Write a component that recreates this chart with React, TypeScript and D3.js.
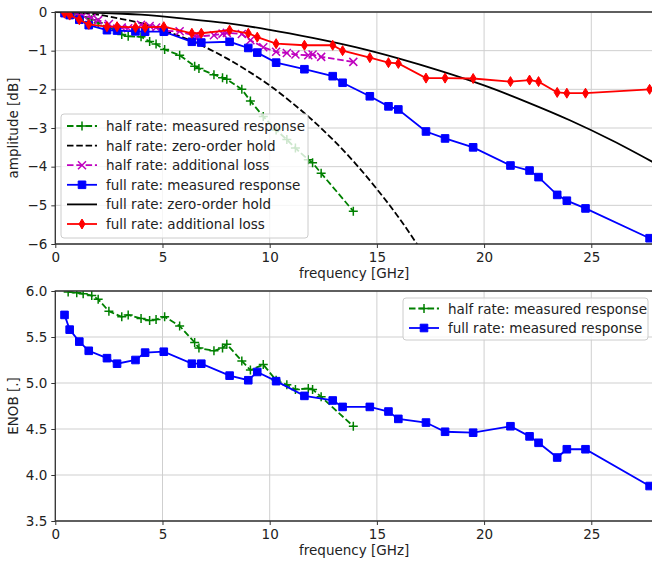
import { useEffect, useRef } from 'react';
import * as d3 from 'd3';

// half rate measurements (GHz)
const hfFreq = [0.6, 1.0, 1.3, 1.7, 2.0, 2.5, 3.1, 3.4, 4.0, 4.4, 4.7, 5.1, 5.8, 6.5, 6.7, 7.4, 7.8, 8.0, 8.7, 9.1, 9.7, 10.3, 10.8, 11.2, 11.8, 12.0, 12.4, 13.9];
const hfMeasured = [-0.03, -0.08, -0.12, -0.2, -0.28, -0.42, -0.58, -0.63, -0.64, -0.76, -0.83, -0.97, -1.12, -1.4, -1.46, -1.62, -1.7, -1.74, -2.0, -2.3, -2.7, -3.05, -3.3, -3.52, -3.82, -3.9, -4.17, -5.15];
const hfLoss = [-0.02, -0.06, -0.09, -0.15, -0.21, -0.31, -0.4, -0.42, -0.33, -0.36, -0.4, -0.49, -0.5, -0.62, -0.63, -0.6, -0.56, -0.54, -0.57, -0.73, -0.91, -1.03, -1.06, -1.1, -1.12, -1.1, -1.16, -1.29];
const hfEnob = [5.99, 5.98, 5.97, 5.95, 5.91, 5.78, 5.72, 5.74, 5.7, 5.68, 5.69, 5.72, 5.62, 5.44, 5.38, 5.35, 5.38, 5.42, 5.24, 5.14, 5.2, 5.03, 4.98, 4.93, 4.94, 4.93, 4.85, 4.53];

// full rate measurements (GHz)
const ffFreq = [0.43, 0.67, 1.12, 1.56, 2.41, 2.88, 3.74, 4.19, 5.06, 6.37, 6.81, 8.13, 9.0, 9.42, 10.3, 11.62, 12.94, 13.4, 14.67, 15.54, 16.0, 17.29, 18.18, 19.49, 21.23, 22.12, 22.54, 23.41, 23.86, 24.73, 27.72];
const ffMeasured = [-0.03, -0.08, -0.2, -0.34, -0.47, -0.48, -0.5, -0.51, -0.51, -0.77, -0.79, -0.77, -0.93, -1.05, -1.31, -1.48, -1.66, -1.83, -2.18, -2.44, -2.52, -3.09, -3.27, -3.5, -3.97, -4.1, -4.27, -4.73, -4.88, -5.08, -5.85];
const ffLoss = [-0.03, -0.08, -0.2, -0.32, -0.38, -0.38, -0.4, -0.4, -0.38, -0.55, -0.55, -0.47, -0.55, -0.65, -0.82, -0.86, -0.86, -1.0, -1.18, -1.31, -1.33, -1.71, -1.71, -1.72, -1.8, -1.76, -1.8, -2.08, -2.1, -2.1, -2.0];
const ffEnob = [5.74, 5.58, 5.45, 5.35, 5.27, 5.21, 5.25, 5.33, 5.34, 5.21, 5.21, 5.08, 5.03, 5.12, 5.02, 4.86, 4.81, 4.74, 4.74, 4.69, 4.61, 4.57, 4.47, 4.46, 4.53, 4.42, 4.35, 4.19, 4.28, 4.28, 3.88];

// zero-order hold curves
const zohHalfFreq = [0, 1, 2, 3, 4, 5, 6, 7, 8, 9, 10, 11, 12, 13, 14, 15, 16, 17];
const zohHalfAmp = [0, -0.02, -0.07, -0.17, -0.29, -0.46, -0.67, -0.91, -1.2, -1.53, -1.9, -2.33, -2.8, -3.33, -3.92, -4.58, -5.3, -6.11];
const zohFullFreq = [0, 2, 4, 6, 8, 10, 12, 14, 16, 18, 20, 22, 24, 26, 28];
const zohFullAmp = [0, -0.02, -0.07, -0.17, -0.29, -0.46, -0.67, -0.91, -1.2, -1.53, -1.9, -2.33, -2.8, -3.33, -3.92];

const xTicks = [0, 5, 10, 15, 20, 25];
const ampTicks = [-6, -5, -4, -3, -2, -1, 0];
const enobTicks = [3.5, 4.0, 4.5, 5.0, 5.5, 6.0];

const FONT = 'DejaVu Sans, sans-serif';
const FS = 13.5;
const LW = 1.8;
const DASH = '6.5,2.8';

function markerPath(type) {
  if (type === '+') return 'M-4.5,0H4.5M0,-4.5V4.5';
  if (type === 'x') return 'M-4,-4L4,4M-4,4L4,-4';
  if (type === 's') return 'M-3.8,-3.8H3.8V3.8H-3.8Z';
  if (type === 'd') return 'M0,-5L3,0L0,5L-3,0Z';
  return '';
}

function drawMarker(g, type, color, cx, cy) {
  const filled = type === 's' || type === 'd';
  g.append('path')
    .attr('d', markerPath(type))
    .attr('transform', `translate(${cx},${cy})`)
    .attr('fill', filled ? color : 'none')
    .attr('stroke', color)
    .attr('stroke-width', filled ? 1 : 1.5);
}

function App() {
  const svgRef = useRef(null);

  useEffect(() => {
    const svg = d3.select(svgRef.current);
    svg.selectAll('*').remove();

    const x = d3.scaleLinear().domain([0, 28]).range([55.3, 655.6]);
    const yTop = d3.scaleLinear().domain([-6, 0]).range([244, 12]);
    const yBot = d3.scaleLinear().domain([3.5, 6]).range([521, 291]);

    const defs = svg.append('defs');

    function panel(id, y, yTicks, yFmt, series, ylabel, legend) {
      const [y0, y1] = y.range();
      const [x0, x1] = x.range();
      defs.append('clipPath').attr('id', id)
        .append('rect').attr('x', x0).attr('y', y1).attr('width', x1 - x0).attr('height', y0 - y1);

      const g = svg.append('g');

      // grid
      g.selectAll('.vgrid').data(xTicks).enter().append('line')
        .attr('x1', d => x(d)).attr('x2', d => x(d)).attr('y1', y1).attr('y2', y0)
        .attr('stroke', '#cfcfcf').attr('stroke-width', 1);
      g.selectAll('.hgrid').data(yTicks).enter().append('line')
        .attr('x1', x0).attr('x2', x1).attr('y1', d => y(d)).attr('y2', d => y(d))
        .attr('stroke', '#cfcfcf').attr('stroke-width', 1);

      // series
      const plot = g.append('g').attr('clip-path', `url(#${id})`);
      series.forEach(s => {
        const pts = s.xs.map((v, i) => [x(v), y(s.ys[i])]);
        const line = d3.line().curve(s.smooth ? d3.curveMonotoneX : d3.curveLinear);
        plot.append('path')
          .attr('d', line(pts))
          .attr('fill', 'none')
          .attr('stroke', s.color)
          .attr('stroke-width', LW)
          .attr('stroke-dasharray', s.dash ? DASH : null);
        if (s.marker) pts.forEach(p => drawMarker(plot, s.marker, s.color, p[0], p[1]));
      });

      // axes
      const ax = g.append('g').attr('transform', `translate(0,${y0})`)
        .call(d3.axisBottom(x).tickValues(xTicks).tickSize(4).tickPadding(4).tickFormat(d3.format('d')));
      const ay = g.append('g').attr('transform', `translate(${x0},0)`)
        .call(d3.axisLeft(y).tickValues(yTicks).tickSize(4).tickPadding(4).tickFormat(yFmt));
      [ax, ay].forEach(a => {
        a.select('.domain').remove();
        a.selectAll('line').attr('stroke', '#333').attr('stroke-width', 1);
        a.selectAll('text').attr('font-family', FONT).attr('font-size', FS).attr('fill', '#222');
      });

      // spines
      g.append('path')
        .attr('d', `M${x1},${y1}H${x0}V${y0}H${x1}`)
        .attr('fill', 'none').attr('stroke', '#333').attr('stroke-width', 1.3);

      g.append('text')
        .attr('x', (x0 + 653) / 2).attr('y', y0 + 29)
        .attr('text-anchor', 'middle').attr('dominant-baseline', 'central')
        .attr('font-family', FONT).attr('font-size', FS).attr('fill', '#222')
        .text('frequency [GHz]');
      g.append('text')
        .attr('transform', `translate(13,${(y0 + y1) / 2}) rotate(-90)`)
        .attr('text-anchor', 'middle').attr('dominant-baseline', 'central')
        .attr('font-family', FONT).attr('font-size', FS).attr('fill', '#222')
        .text(ylabel);

      // legend
      const lg = g.append('g');
      lg.append('rect')
        .attr('x', legend.x).attr('y', legend.y).attr('width', legend.w).attr('height', legend.h)
        .attr('rx', 3).attr('fill', 'white').attr('fill-opacity', 0.8)
        .attr('stroke', '#cccccc').attr('stroke-width', 1);
      legend.items.forEach((s, i) => {
        const ry = legend.y + legend.top + i * legend.step;
        const hx = legend.x + 6;
        lg.append('line')
          .attr('x1', hx).attr('x2', hx + 30).attr('y1', ry).attr('y2', ry)
          .attr('stroke', s.color).attr('stroke-width', LW)
          .attr('stroke-dasharray', s.dash ? DASH : null);
        if (s.marker) drawMarker(lg, s.marker, s.color, hx + 15, ry);
        lg.append('text')
          .attr('x', hx + 39).attr('y', ry)
          .attr('dominant-baseline', 'central')
          .attr('font-family', FONT).attr('font-size', FS).attr('fill', '#222')
          .text(s.label);
      });
    }

    const halfMeas = { label: 'half rate: measured response', color: '#008000', dash: true, marker: '+' };
    const halfZoh = { label: 'half rate: zero-order hold', color: '#000000', dash: true, smooth: true };
    const halfLoss = { label: 'half rate: additional loss', color: '#bf00bf', dash: true, marker: 'x' };
    const fullMeas = { label: 'full rate: measured response', color: '#0000ff', marker: 's' };
    const fullZoh = { label: 'full rate: zero-order hold', color: '#000000', smooth: true };
    const fullLoss = { label: 'full rate: additional loss', color: '#ff0000', marker: 'd' };

    panel('clipTop', yTop, ampTicks, d3.format('d'), [
      { ...halfMeas, xs: hfFreq, ys: hfMeasured },
      { ...halfZoh, xs: zohHalfFreq, ys: zohHalfAmp },
      { ...halfLoss, xs: hfFreq, ys: hfLoss },
      { ...fullMeas, xs: ffFreq, ys: ffMeasured },
      { ...fullZoh, xs: zohFullFreq, ys: zohFullAmp },
      { ...fullLoss, xs: ffFreq, ys: ffLoss },
    ], 'amplitude [dB]', {
      x: 61, y: 114, w: 247, h: 124, top: 12, step: 19.6,
      items: [halfMeas, halfZoh, halfLoss, fullMeas, fullZoh, fullLoss],
    });

    panel('clipBot', yBot, enobTicks, d3.format('.1f'), [
      { ...halfMeas, xs: hfFreq, ys: hfEnob },
      { ...fullMeas, xs: ffFreq, ys: ffEnob },
    ], 'ENOB [.]', {
      x: 403, y: 298, w: 245, h: 42, top: 10.5, step: 19.5,
      items: [halfMeas, fullMeas],
    });
  }, []);

  return (
    <svg
      ref={svgRef}
      width={652}
      height={567}
      style={{ position: 'absolute', left: 0, top: 0, background: 'white' }}
    />
  );
}

export default App;
